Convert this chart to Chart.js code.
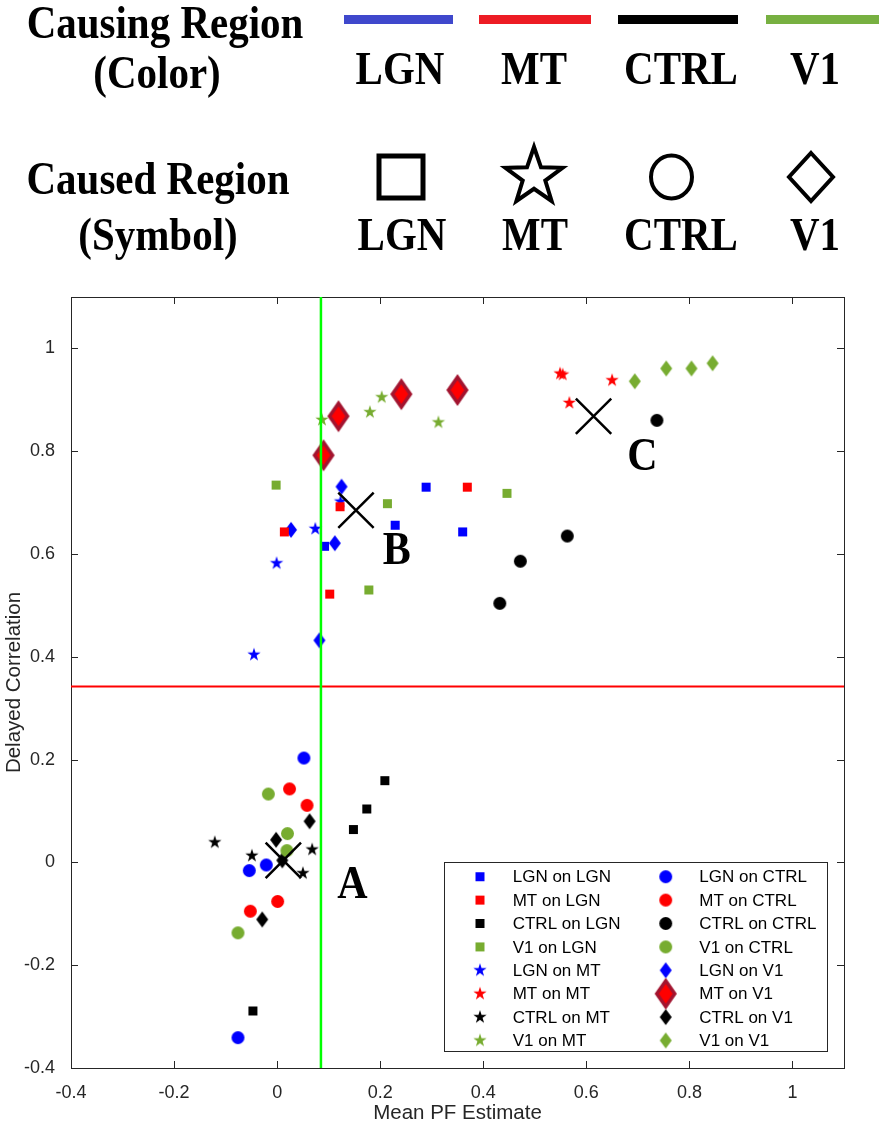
<!DOCTYPE html>
<html>
<head>
<meta charset="utf-8">
<script src="https://cdn.jsdelivr.net/npm/chart.js@4.4.1/dist/chart.umd.min.js"></script>
<style>
  html, body { margin: 0; padding: 0; background: #fff; }
  #wrap { position: relative; width: 879px; height: 1129px; overflow: hidden; }
  #plot { position: absolute; left: 0; top: 0; }
  #head { position: absolute; left: 0; top: 0; }
</style>
</head>
<body>
<div id="wrap">
  <canvas id="plot" width="879" height="1129"></canvas>
  <svg id="head" width="879" height="290" font-family="'Liberation Serif','Times New Roman',serif"
       font-weight="bold" font-size="41" text-anchor="middle" fill="#000">
    <text transform="translate(165,38) scale(1,1.12)">Causing Region</text>
    <text transform="translate(157,88) scale(1,1.12)">(Color)</text>
    <rect x="344" y="15" width="109" height="9" fill="#3f48cc"/>
    <rect x="479" y="15" width="112" height="9" fill="#ed1c24"/>
    <rect x="618" y="15" width="120" height="9" fill="#000"/>
    <rect x="766" y="15" width="113" height="9" fill="#77b041"/>
    <text transform="translate(400,84) scale(1,1.12)">LGN</text>
    <text transform="translate(534,84) scale(1,1.12)">MT</text>
    <text transform="translate(681,84) scale(1,1.12)">CTRL</text>
    <text transform="translate(815,84) scale(1,1.12)">V1</text>

    <text transform="translate(158,194) scale(1,1.12)">Caused Region</text>
    <text transform="translate(158,250) scale(1,1.12)">(Symbol)</text>
    <rect x="379" y="156" width="44" height="42" fill="none" stroke="#000" stroke-width="5"/>
    <polygon points="534,147 541,167.3 562.5,167.8 545.3,180.6 551.6,201 534,188.8 516.4,201 522.7,180.6 505.5,167.8 527,167.3"
             fill="none" stroke="#000" stroke-width="4" stroke-linejoin="miter"/>
    <ellipse cx="671.5" cy="177" rx="20.5" ry="21.5" fill="none" stroke="#000" stroke-width="4"/>
    <polygon points="811,153 833,177 811,201 789,177" fill="none" stroke="#000" stroke-width="4"/>
    <text transform="translate(402,250) scale(1,1.12)">LGN</text>
    <text transform="translate(535,250) scale(1,1.12)">MT</text>
    <text transform="translate(681,250) scale(1,1.12)">CTRL</text>
    <text transform="translate(815,250) scale(1,1.12)">V1</text>
  </svg>
</div>
<script>
"use strict";

// --- data: [Mean PF Estimate, Delayed Correlation] -------------------------
const LGN_ON_LGN = [[0.289, 0.730], [0.229, 0.656], [0.360, 0.643], [0.092, 0.615]];
const MT_ON_LGN = [[0.369, 0.730], [0.122, 0.692], [0.014, 0.643], [0.102, 0.522]];
const CTRL_ON_LGN = [[0.209, 0.159], [0.174, 0.104], [0.148, 0.064], [-0.047, -0.289]];
const V1_ON_LGN = [[-0.002, 0.734], [0.214, 0.698], [0.446, 0.718], [0.178, 0.530]];

const LGN_ON_MT = [[0.123, 0.702], [0.074, 0.649], [-0.001, 0.582], [-0.045, 0.404]];
const MT_ON_MT = [[0.549, 0.951], [0.554, 0.949], [0.567, 0.894], [0.650, 0.938]];
const CTRL_ON_MT = [[-0.121, 0.039], [-0.049, 0.013], [0.068, 0.025], [0.050, -0.021]];
const V1_ON_MT = [[0.087, 0.861], [0.180, 0.876], [0.203, 0.905], [0.313, 0.856]];

const LGN_ON_CTRL = [[0.052, 0.203], [-0.021, -0.005], [-0.054, -0.016], [-0.076, -0.341]];
const MT_ON_CTRL = [[0.024, 0.143], [0.058, 0.111], [0.001, -0.076], [-0.052, -0.095]];
const CTRL_ON_CTRL = [[0.472, 0.586], [0.432, 0.504], [0.563, 0.635], [0.737, 0.860]];
const V1_ON_CTRL = [[-0.017, 0.133], [0.020, 0.056], [0.019, 0.023], [-0.076, -0.137]];

const LGN_ON_V1 = [[0.125, 0.731], [0.027, 0.647], [0.112, 0.621], [0.082, 0.432]];
const MT_ON_V1 = [[0.090, 0.792], [0.119, 0.868], [0.241, 0.911], [0.350, 0.919]];
const CTRL_ON_V1 = [[0.063, 0.080], [-0.002, 0.044], [0.010, 0.004], [-0.029, -0.111]];
const V1_ON_V1 = [[0.694, 0.936], [0.755, 0.961], [0.804, 0.961], [0.845, 0.971]];

// cluster centres (big X) and their letters
const CLUSTER_X = [0.012, 0.153, 0.614];
const CLUSTER_Y = [0.004, 0.685, 0.868];
const LETTERS = ["A", "B", "C"];
const LETTER_X = [0.146, 0.232, 0.709];
const LETTER_Y = [-0.046, 0.604, 0.787];

// threshold lines
const PF_THRESHOLD = 0.085;
const CORR_THRESHOLD = 0.342;

const X_TICKS = [-0.4, -0.2, 0, 0.2, 0.4, 0.6, 0.8, 1];
const Y_TICKS = [-0.4, -0.2, 0, 0.2, 0.4, 0.6, 0.8, 1];
const X_RANGE = [-0.4, 1.1];
const Y_RANGE = [-0.4, 1.1];

// --- marker sprites (MATLAB-style filled symbols) ---------------------------
const BLUE = "#0000ff", RED = "#ff0000", BLACK = "#000000", GREEN = "#77ac30";
const TEXT = "#262626";

function marker(shape, w, h, fill, stroke, lw) {
  const pad = Math.ceil(lw || 0) + 1;
  const c = document.createElement("canvas");
  c.width = Math.ceil(w) + 2 * pad;
  c.height = Math.ceil(h) + 2 * pad;
  const g = c.getContext("2d");
  g.translate(c.width / 2, c.height / 2);
  g.beginPath();
  if (shape === "square") g.rect(-w / 2, -h / 2, w, h);
  else if (shape === "circle") g.ellipse(0, 0, w / 2, h / 2, 0, 0, Math.PI * 2);
  else if (shape === "diamond") {
    g.moveTo(0, -h / 2); g.lineTo(w / 2, 0); g.lineTo(0, h / 2); g.lineTo(-w / 2, 0); g.closePath();
  } else if (shape === "star") {
    const r = w / 2;
    for (let i = 0; i < 10; i++) {
      const rr = i % 2 ? r * 0.382 : r;
      const a = -Math.PI / 2 + i * Math.PI / 5;
      g.lineTo(rr * Math.cos(a), rr * Math.sin(a));
    }
    g.closePath();
  }
  g.fillStyle = fill;
  g.fill();
  if (lw) { g.lineWidth = lw; g.strokeStyle = stroke; g.lineJoin = "miter"; g.stroke(); }
  return c;
}

const SHAPES = {
  square: (col) => marker("square", 9, 9, col),
  star: (col) => marker("star", 14, 14, col),
  circle: (col) => marker("circle", 13, 13, col),
  diamond: (col) => marker("diamond", 12, 16, col),
};
const BIG_DIAMOND = marker("diamond", 18, 26, RED, "#a2142f", 3.5);

const SERIES = [
  ["LGN on LGN", LGN_ON_LGN, BLUE, "square"],
  ["MT on LGN", MT_ON_LGN, RED, "square"],
  ["CTRL on LGN", CTRL_ON_LGN, BLACK, "square"],
  ["V1 on LGN", V1_ON_LGN, GREEN, "square"],
  ["LGN on MT", LGN_ON_MT, BLUE, "star"],
  ["MT on MT", MT_ON_MT, RED, "star"],
  ["CTRL on MT", CTRL_ON_MT, BLACK, "star"],
  ["V1 on MT", V1_ON_MT, GREEN, "star"],
  ["LGN on CTRL", LGN_ON_CTRL, BLUE, "circle"],
  ["MT on CTRL", MT_ON_CTRL, RED, "circle"],
  ["CTRL on CTRL", CTRL_ON_CTRL, BLACK, "circle"],
  ["V1 on CTRL", V1_ON_CTRL, GREEN, "circle"],
  ["LGN on V1", LGN_ON_V1, BLUE, "diamond"],
  ["MT on V1", MT_ON_V1, RED, "bigdiamond"],
  ["CTRL on V1", CTRL_ON_V1, BLACK, "diamond"],
  ["V1 on V1", V1_ON_V1, GREEN, "diamond"],
].map(([label, pts, color, shape]) => ({
  label, pts, color,
  img: shape === "bigdiamond" ? BIG_DIAMOND : SHAPES[shape](color),
}));

const fmt = (v) => String(Math.round(v * 10) / 10);
const SANS = "'Liberation Sans', Arial, Helvetica, sans-serif";

// --- plugins: MATLAB box with inward ticks, legend box, cluster letters -----
const boxPlugin = {
  id: "box",
  beforeDatasetsDraw(chart) {
    const { ctx, chartArea: a, scales: { x, y } } = chart;
    ctx.save();
    ctx.strokeStyle = TEXT;
    ctx.lineWidth = 1;
    ctx.strokeRect(Math.round(a.left) + 0.5, Math.round(a.top) + 0.5,
      Math.round(a.right - a.left), Math.round(a.bottom - a.top));
    const L = 7;
    ctx.beginPath();
    for (const v of X_TICKS) {
      const px = Math.round(x.getPixelForValue(v)) + 0.5;
      ctx.moveTo(px, a.bottom); ctx.lineTo(px, a.bottom - L);
      ctx.moveTo(px, a.top); ctx.lineTo(px, a.top + L);
    }
    for (const v of Y_TICKS) {
      const py = Math.round(y.getPixelForValue(v)) + 0.5;
      ctx.moveTo(a.left, py); ctx.lineTo(a.left + L, py);
      ctx.moveTo(a.right, py); ctx.lineTo(a.right - L, py);
    }
    ctx.stroke();
    ctx.restore();
  },
};

const letterPlugin = {
  id: "letters",
  afterDatasetsDraw(chart) {
    const { ctx, scales: { x, y } } = chart;
    ctx.font = "bold 42px 'Liberation Serif', 'Times New Roman', serif";
    ctx.fillStyle = "#000";
    ctx.textAlign = "center";
    ctx.textBaseline = "middle";
    LETTERS.forEach((t, i) => {
      ctx.save();
      ctx.translate(x.getPixelForValue(LETTER_X[i]), y.getPixelForValue(LETTER_Y[i]));
      ctx.scale(1, 1.12);
      ctx.fillText(t, 0, 0);
      ctx.restore();
    });
  },
};

const legendPlugin = {
  id: "boxLegend",
  afterDraw(chart) {
    const { ctx, chartArea: a } = chart;
    const right = a.right - 17, bottom = a.bottom - 17;
    const w = 383, h = 189;
    const left = right - w, top = bottom - h;
    ctx.save();
    ctx.fillStyle = "#fff";
    ctx.fillRect(left, top, w, h);
    ctx.strokeStyle = TEXT;
    ctx.lineWidth = 1;
    ctx.strokeRect(Math.round(left) + 0.5, Math.round(top) + 0.5, w, h);
    ctx.font = "17px " + SANS;
    ctx.fillStyle = "#000";
    ctx.textAlign = "left";
    ctx.textBaseline = "middle";
    SERIES.forEach((s, i) => {
      const col = Math.floor(i / 8), row = i % 8;
      const cy = top + 14.7 + row * 23.4;
      const mx = left + (col ? 221.7 : 36);
      const tx = left + (col ? 255.3 : 68.7);
      const im = s.img;
      ctx.drawImage(im, mx - im.width / 2, cy - im.height / 2);
      ctx.fillText(s.label, tx, cy + 1);
    });
    ctx.restore();
  },
};

// --- chart ---------------------------------------------------------------
const scatterSets = SERIES.map((s) => ({
  label: s.label,
  data: s.pts.map(([px, py]) => ({ x: px, y: py })),
  pointStyle: s.img,
  pointRadius: 6,
  showLine: false,
  order: 3,
}));

const lineSets = [
  {
    label: "PF threshold",
    data: Y_RANGE.map((v) => ({ x: PF_THRESHOLD, y: v })),
    showLine: true, borderColor: "#00ff00", borderWidth: 2.5, pointRadius: 0, order: 2,
  },
  {
    label: "correlation threshold",
    data: X_RANGE.map((v) => ({ x: v, y: CORR_THRESHOLD })),
    showLine: true, borderColor: "#ff0000", borderWidth: 2, pointRadius: 0, order: 2,
  },
  {
    label: "cluster centres",
    data: CLUSTER_X.map((v, i) => ({ x: v, y: CLUSTER_Y[i] })),
    showLine: false, pointStyle: "crossRot", pointRadius: 25,
    borderColor: "#000", borderWidth: 2.5, order: 1,
  },
];

new Chart(document.getElementById("plot"), {
  type: "scatter",
  data: { datasets: [...scatterSets, ...lineSets] },
  plugins: [boxPlugin, letterPlugin, legendPlugin],
  options: {
    responsive: false,
    animation: false,
    devicePixelRatio: 1,
    events: [],
    layout: { padding: { top: 297, right: 35, bottom: 3, left: 0 } },
    plugins: { legend: { display: false }, tooltip: { enabled: false } },
    scales: {
      x: {
        type: "linear", min: X_RANGE[0], max: X_RANGE[1],
        grid: { display: false }, border: { display: false },
        afterBuildTicks: (s) => { s.ticks = X_TICKS.map((v) => ({ value: v })); },
        afterFit: (s) => { s.height = 58; },
        ticks: { padding: 6, color: TEXT, font: { family: SANS, size: 18 }, maxRotation: 0, autoSkip: false, callback: fmt },
        title: { display: true, text: "Mean PF Estimate", color: TEXT, font: { family: SANS, size: 20.5 }, padding: { top: 0, bottom: 0 } },
      },
      y: {
        type: "linear", min: Y_RANGE[0], max: Y_RANGE[1],
        grid: { display: false }, border: { display: false },
        afterBuildTicks: (s) => { s.ticks = Y_TICKS.map((v) => ({ value: v })); },
        afterFit: (s) => { s.width = 71; },
        ticks: { padding: 8, color: TEXT, font: { family: SANS, size: 18 }, autoSkip: false, callback: fmt },
        title: { display: true, text: "Delayed Correlation", color: TEXT, font: { family: SANS, size: 20.5 }, padding: { top: 2, bottom: 0 } },
      },
    },
  },
});
</script>
</body>
</html>
